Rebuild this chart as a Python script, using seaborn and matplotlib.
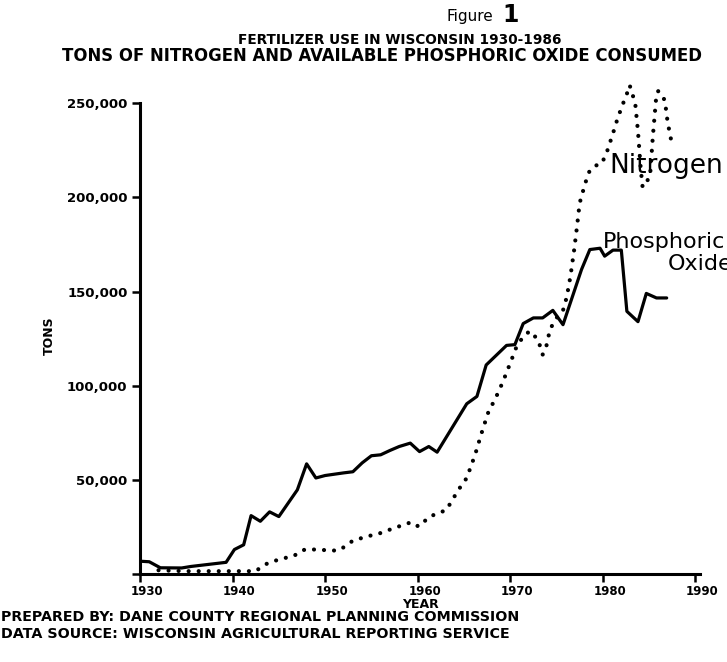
import pandas as pd
import seaborn as sns
import matplotlib.pyplot as plt
from matplotlib.transforms import ScaledTranslation

# Fertilizer use in Wisconsin (tons)
phos_year = [1930.0, 1931.0, 1932.2, 1934.5, 1935.5, 1939.3, 1940.2, 1941.2, 1942.0,
             1943.0, 1944.0, 1945.0, 1946.0, 1947.0, 1948.0, 1949.0, 1950.0, 1951.0,
             1952.0, 1953.0, 1954.0, 1955.0, 1956.0, 1957.0, 1958.0, 1959.2, 1960.2,
             1961.2, 1962.1, 1965.3, 1966.4, 1967.4, 1969.6, 1970.5, 1971.4, 1972.5,
             1973.5, 1974.6, 1975.7, 1977.7, 1978.6, 1979.7, 1980.2, 1981.1, 1982.0,
             1982.6, 1983.8, 1984.7, 1985.8, 1986.9]
phos_tons = [6800, 6500, 3300, 3200, 4000, 6200, 13000, 15500, 31000,
             28000, 33000, 30500, 37600, 44700, 58500, 51000, 52300, 53000,
             53700, 54300, 59000, 62800, 63300, 65600, 67700, 69500, 65000,
             67700, 64700, 90400, 94300, 111000, 121400, 121800, 133000, 136000,
             136000, 140000, 132400, 161700, 172300, 173000, 168800, 172000, 172000,
             139500, 134000, 149000, 146600, 146600]

nitro_year = [1932.0, 1935.0, 1942.5, 1943.4, 1944.2, 1945.5, 1946.6, 1947.8, 1949.1,
              1950.8, 1951.6, 1953.0, 1954.5, 1955.9, 1957.4, 1959.3, 1960.1, 1961.3,
              1963.1, 1964.4, 1965.3, 1966.2, 1966.9, 1967.6, 1968.5, 1969.2, 1970.0,
              1970.7, 1971.4, 1972.1, 1973.0, 1973.5, 1973.9, 1974.3, 1975.0, 1975.7,
              1976.1, 1976.5, 1976.9, 1977.2, 1977.5, 1978.1, 1978.6, 1979.3, 1979.9,
              1980.5, 1981.1, 1981.6, 1982.2, 1982.6, 1982.9, 1983.5, 1983.8, 1984.1,
              1984.3, 1985.1, 1985.4, 1985.8, 1986.0, 1986.7, 1987.0, 1987.4]
nitro_tons = [2000, 1500, 1500, 4800, 6500, 8300, 9600, 13000, 13000,
              12400, 12800, 17700, 19900, 21600, 24300, 27500, 25200, 30500,
              34000, 44700, 51000, 63300, 74800, 85500, 94300, 102000, 112000,
              121000, 126000, 129000, 124500, 116500, 121000, 130000, 136000, 140000,
              147000, 158000, 172000, 184000, 197000, 207500, 214500, 217000, 218000,
              225000, 234000, 242000, 250000, 255000, 259600, 250000, 235000, 215000,
              205400, 211000, 232000, 255000, 256500, 251600, 240000, 230000]

y_ticks = [0, 50000, 100000, 150000, 200000, 250000]
y_labels = ['', '50,000', '100,000', '150,000', '200,000', '250,000']
x_ticks = [1930, 1940, 1950, 1960, 1970, 1980, 1990]
x_labels = ['1930', '1940', '1950', '1960', '1970', '1980', '1990']

phos = pd.DataFrame({'year': phos_year, 'tons': phos_tons})
nitro = pd.DataFrame({'year': nitro_year, 'tons': nitro_tons})

sns.set_style('ticks')
plt.rcParams['font.family'] = ['DejaVu Sans']
plt.rcParams['text.color'] = 'black'
plt.rcParams['xtick.color'] = 'black'
plt.rcParams['ytick.color'] = 'black'
plt.rcParams['axes.edgecolor'] = 'black'

W, H = 727, 662
fig = plt.figure(figsize=(W / 100, H / 100), dpi=100)
ax = fig.add_axes([140 / W, (H - 574) / H, 560 / W, 499 / H])

sns.lineplot(data=phos, x='year', y='tons', ax=ax, color='black', lw=2.3,
             sort=False, estimator=None)
sns.lineplot(data=nitro, x='year', y='tons', ax=ax, color='black', lw=3.0,
             linestyle=(0, (0.01, 2.4)), dash_capstyle='round',
             sort=False, estimator=None)

ax.set_xlim(1930, 1990.5)
ax.set_ylim(0, 265000)
sns.despine(ax=ax)
ax.spines['left'].set_bounds(0, 250000)
ax.spines['left'].set_linewidth(2.2)
ax.spines['bottom'].set_linewidth(2.2)

ax.set_yticks(y_ticks)
ax.set_yticklabels(y_labels, fontsize=9.5, fontweight='bold')
ax.set_xticks(x_ticks)
ax.set_xticklabels(x_labels, fontsize=8.5, fontweight='bold')
ax.tick_params(axis='both', length=6, width=1.8, color='black', pad=3)
ax.tick_params(axis='x', pad=2)
shift = ScaledTranslation(7 / 100, 0, fig.dpi_scale_trans)
for lbl in ax.get_xticklabels():
    lbl.set_transform(lbl.get_transform() + shift)

ax.set_xlabel('')
ax.set_ylabel('')
fig.text(49 / W, 1 - 336 / H, 'TONS', rotation=90, fontsize=9, fontweight='bold',
         ha='center', va='center')
fig.text(420 / W, 1 - 605 / H, 'YEAR', fontsize=9, fontweight='bold',
         ha='center', va='center')

# titles
fig.text(493 / W, 1 - 17 / H, 'Figure', fontsize=11, ha='right', va='center')
fig.text(502 / W, 1 - 15 / H, '1', fontsize=17, fontweight='bold', ha='left', va='center')
fig.text(400 / W, 1 - 40 / H, 'FERTILIZER USE IN WISCONSIN 1930-1986', fontsize=9.8,
         fontweight='bold', ha='center', va='center')
fig.text(382 / W, 1 - 56 / H, 'TONS OF NITROGEN AND AVAILABLE PHOSPHORIC OXIDE CONSUMED',
         fontsize=11.9, fontweight='bold', ha='center', va='center')

# handwritten labels
fig.text(609 / W, 1 - 166 / H, 'Nitrogen', fontsize=19, ha='left', va='center')
fig.text(603 / W, 1 - 242 / H, 'Phosphoric', fontsize=16, ha='left', va='center')
fig.text(668 / W, 1 - 264 / H, 'Oxide', fontsize=16, ha='left', va='center')

# footer
fig.text(1 / W, 1 - 617 / H, 'PREPARED BY: DANE COUNTY REGIONAL PLANNING COMMISSION',
         fontsize=10.3, fontweight='bold', ha='left', va='center')
fig.text(1 / W, 1 - 634 / H, 'DATA SOURCE: WISCONSIN AGRICULTURAL REPORTING SERVICE',
         fontsize=10.3, fontweight='bold', ha='left', va='center')

fig.savefig('out.png', dpi=100)
